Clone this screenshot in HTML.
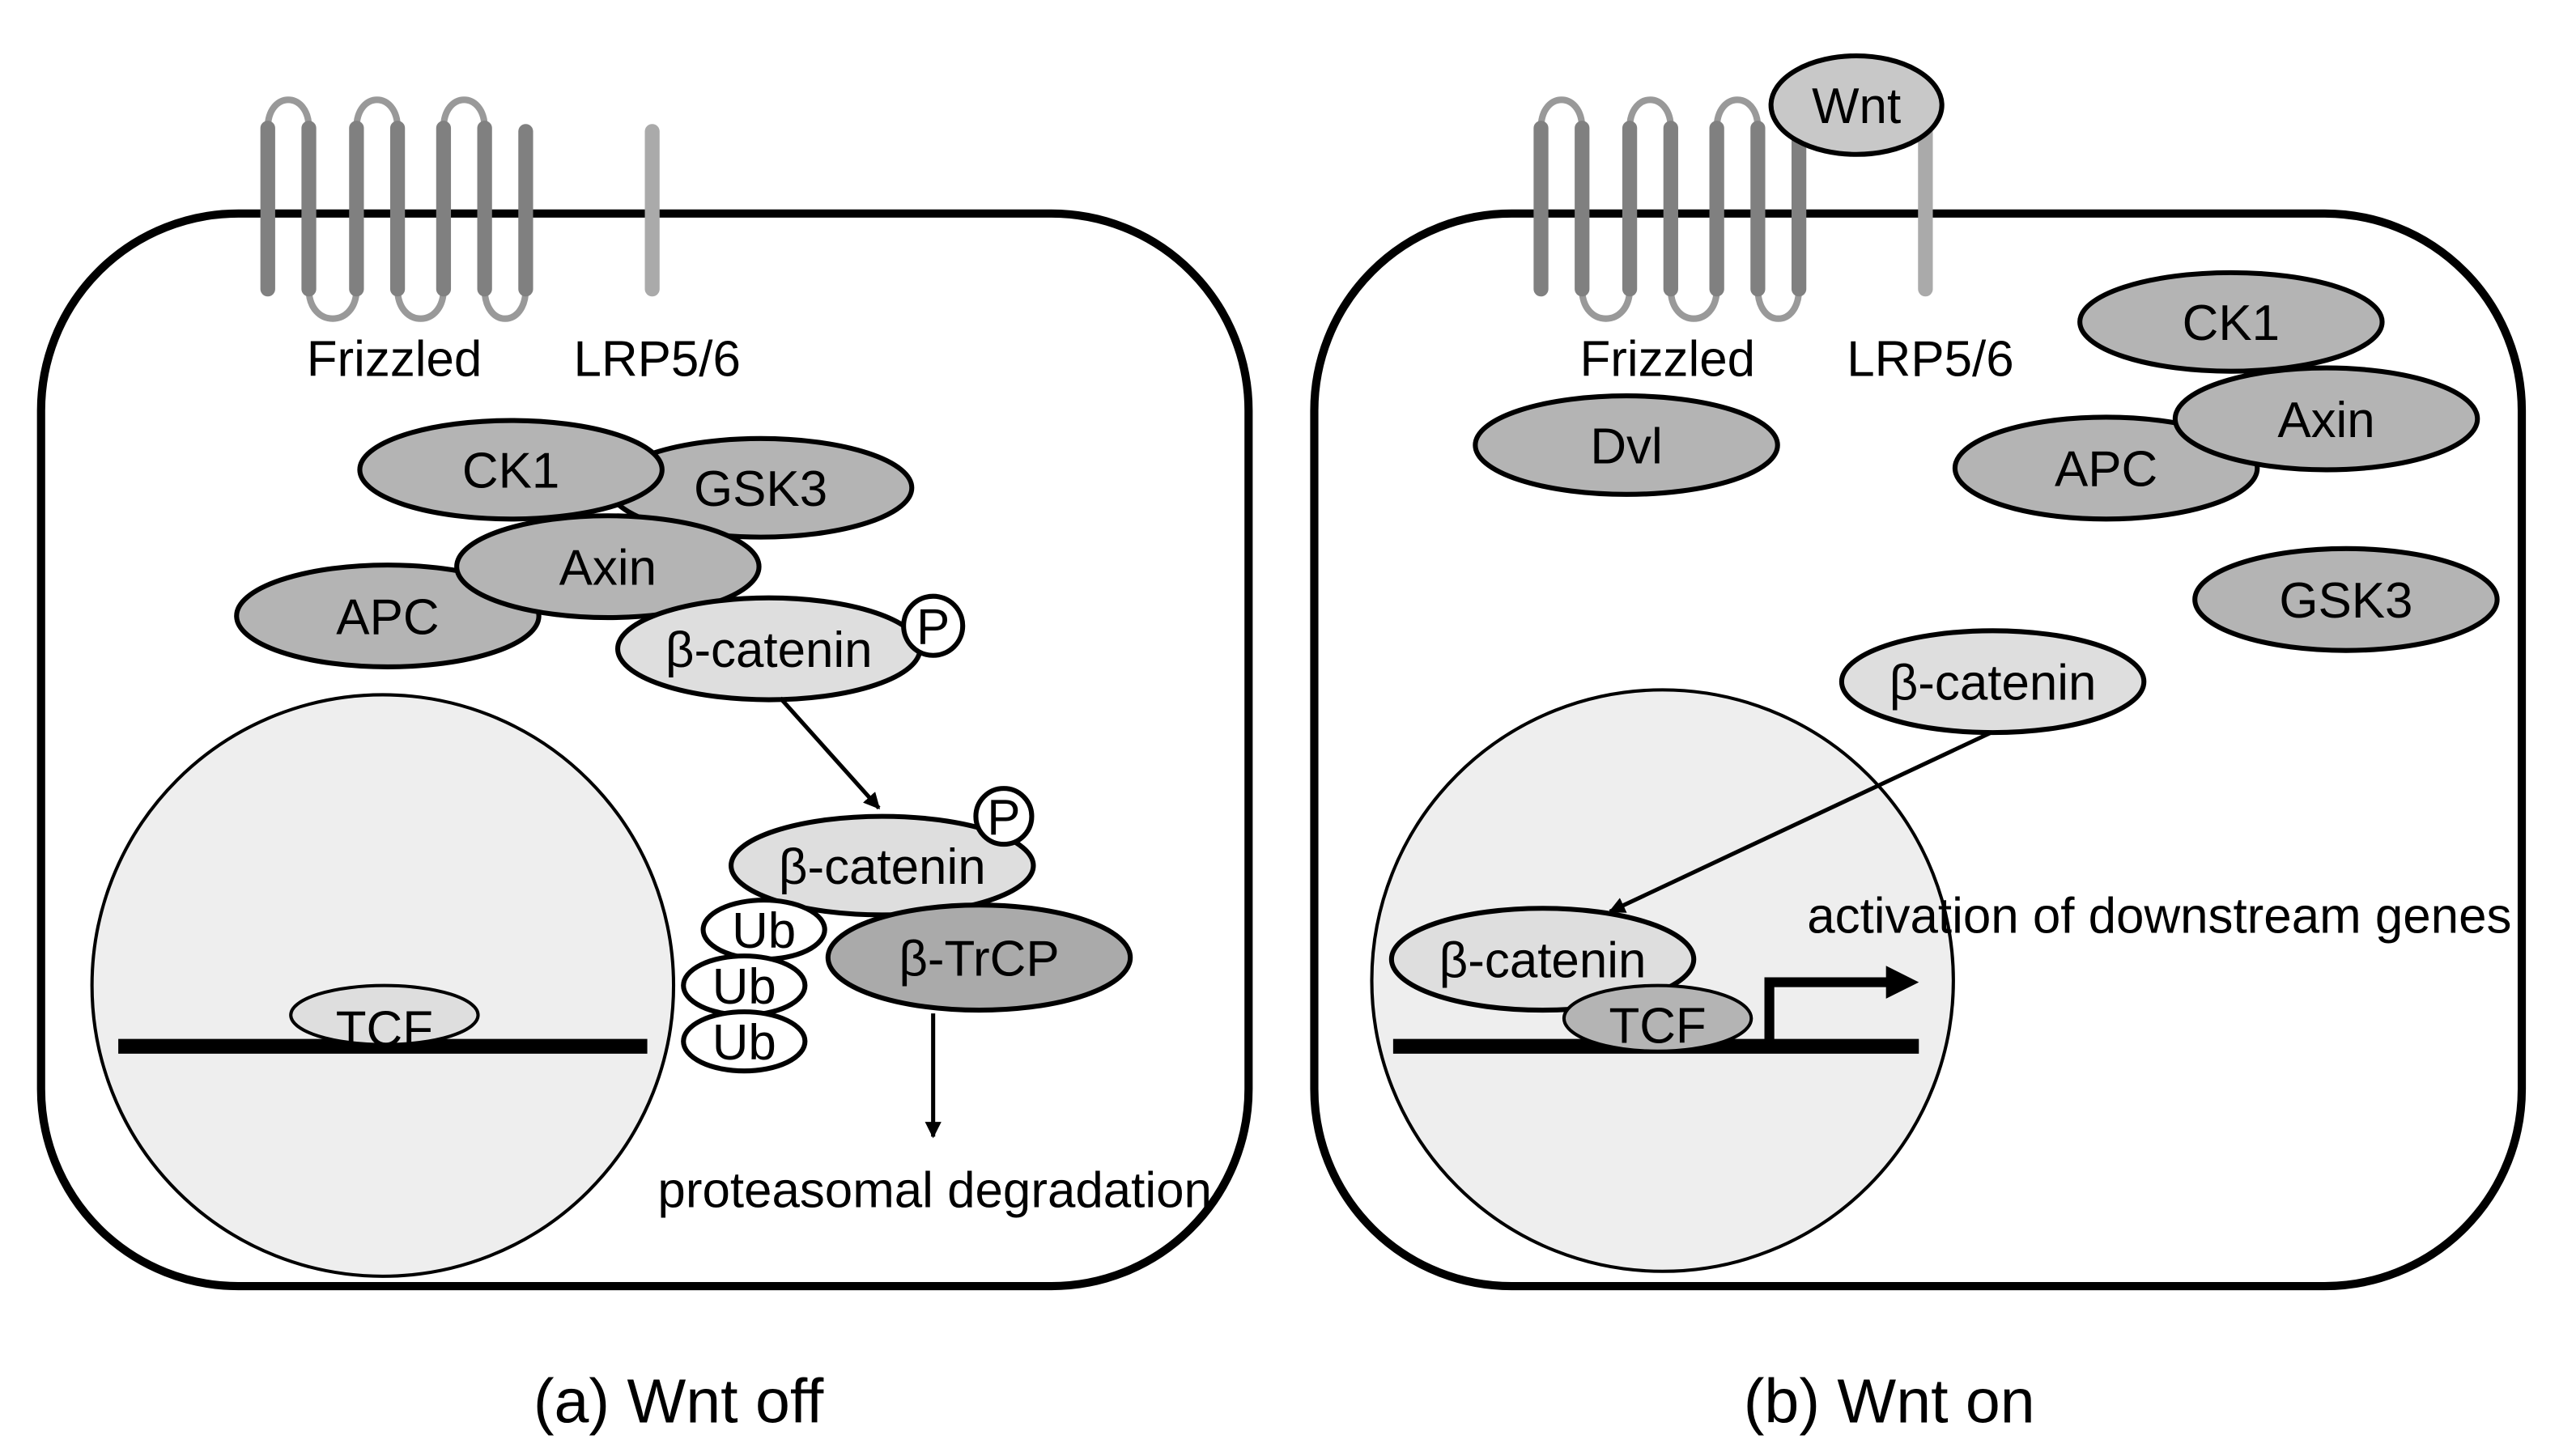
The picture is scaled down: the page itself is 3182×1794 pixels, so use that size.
<!DOCTYPE html>
<html><head><meta charset="utf-8"><style>html,body{margin:0;padding:0;background:#fff}svg{display:block}</style></head>
<body>
<svg width="3182" height="1794" viewBox="0 0 1568 884" preserveAspectRatio="none" xmlns="http://www.w3.org/2000/svg" font-family="Liberation Sans, sans-serif">
<defs>
<marker id="ah" markerWidth="10" markerHeight="10" refX="9" refY="5" orient="auto" markerUnits="userSpaceOnUse"><path d="M0,0 L10,5 L0,10 z" fill="#000"/></marker>
</defs>
<g fill="none" stroke="#000" stroke-width="5">
<rect x="25" y="130" width="735" height="653" rx="120" ry="120"/>
<rect x="800" y="130" width="735" height="653" rx="120" ry="120"/>
</g>
<g id="fz">
<g fill="none" stroke="#999" stroke-width="4">
<path d="M163,78 C163,55 188,55 188,78"/><path d="M217,78 C217,55 242,55 242,78"/><path d="M270,78 C270,55 295,55 295,78"/>
<path d="M188,176 C188,200 217,200 217,176"/><path d="M242,176 C242,200 270,200 270,176"/><path d="M295,176 C295,200 320,200 320,176"/>
</g>
<g stroke="#808080" stroke-width="9" stroke-linecap="round">
<line x1="163" y1="78" x2="163" y2="176"/><line x1="188" y1="78" x2="188" y2="176"/><line x1="217" y1="78" x2="217" y2="176"/><line x1="242" y1="78" x2="242" y2="176"/><line x1="270" y1="78" x2="270" y2="176"/><line x1="295" y1="78" x2="295" y2="176"/><line x1="320" y1="80" x2="320" y2="176"/>
</g>
<line x1="397" y1="80" x2="397" y2="176" stroke="#aaa" stroke-width="9" stroke-linecap="round"/>
</g>
<use href="#fz" x="775"/>
<g font-size="30.5" text-anchor="middle">
<text x="240" y="229">Frizzled</text><text x="400" y="229">LRP5/6</text>
<text x="1015" y="229">Frizzled</text><text x="1175" y="229">LRP5/6</text>
</g>
<g stroke="#000" stroke-width="3" font-size="30.5" text-anchor="middle">
<ellipse cx="1130" cy="64" rx="52" ry="30" fill="#c8c8c8"/><text x="1130" y="75" stroke="none">Wnt</text>
<ellipse cx="463" cy="297" rx="92" ry="30" fill="#b4b4b4"/><text x="463" y="308" stroke="none">GSK3</text>
<ellipse cx="311" cy="286" rx="92" ry="30" fill="#b4b4b4"/><text x="311" y="297" stroke="none">CK1</text>
<ellipse cx="236" cy="375" rx="92" ry="31" fill="#b4b4b4"/><text x="236" y="386" stroke="none">APC</text>
<ellipse cx="370" cy="345" rx="92" ry="31" fill="#b4b4b4"/><text x="370" y="356" stroke="none">Axin</text>
<ellipse cx="468" cy="395" rx="92" ry="31" fill="#dedede"/><text x="468" y="406" stroke="none">β-catenin</text>
<circle cx="568" cy="381" r="18" fill="#fff"/><text x="568" y="392" stroke="none">P</text>
<circle cx="233" cy="600" r="177" fill="#eee" stroke-width="2"/>
<line x1="72" y1="637" x2="394" y2="637" stroke-width="9"/>
<ellipse cx="234" cy="618" rx="57" ry="18" fill="#dedede" stroke-width="2"/><text x="234" y="637" stroke="none">TCF</text>
<line x1="475" y1="425" x2="535" y2="492" stroke-width="2.5" marker-end="url(#ah)"/>
<ellipse cx="537" cy="527" rx="92" ry="30" fill="#dedede"/><text x="537" y="538" stroke="none">β-catenin</text>
<circle cx="611" cy="497" r="17" fill="#fff"/><text x="611" y="508" stroke="none">P</text>
<ellipse cx="596" cy="583" rx="92" ry="32" fill="#aaa"/><text x="596" y="594" stroke="none">β-TrCP</text>
<ellipse cx="465" cy="566" rx="37" ry="18" fill="#fff"/><text x="465" y="577" stroke="none">Ub</text>
<ellipse cx="453" cy="600" rx="37" ry="18" fill="#fff"/><text x="453" y="611" stroke="none">Ub</text>
<ellipse cx="453" cy="634" rx="37" ry="18" fill="#fff"/><text x="453" y="645" stroke="none">Ub</text>
<line x1="568" y1="617" x2="568" y2="692" stroke-width="2.5" marker-end="url(#ah)"/>
<text x="569" y="735" stroke="none">proteasomal degradation</text>
<ellipse cx="990" cy="271" rx="92" ry="30" fill="#b4b4b4"/><text x="990" y="282" stroke="none">Dvl</text>
<ellipse cx="1358" cy="196" rx="92" ry="30" fill="#b4b4b4"/><text x="1358" y="207" stroke="none">CK1</text>
<ellipse cx="1282" cy="285" rx="92" ry="31" fill="#b4b4b4"/><text x="1282" y="296" stroke="none">APC</text>
<ellipse cx="1416" cy="255" rx="92" ry="31" fill="#b4b4b4"/><text x="1416" y="266" stroke="none">Axin</text>
<ellipse cx="1428" cy="365" rx="92" ry="31" fill="#b4b4b4"/><text x="1428" y="376" stroke="none">GSK3</text>
<ellipse cx="1213" cy="415" rx="92" ry="31" fill="#dedede"/><text x="1213" y="426" stroke="none">β-catenin</text>
<circle cx="1012" cy="597" r="177" fill="#eee" stroke-width="2"/>
<line x1="848" y1="637" x2="1168" y2="637" stroke-width="9"/>
<ellipse cx="939" cy="584" rx="92" ry="31" fill="#dedede"/><text x="939" y="595" stroke="none">β-catenin</text>
<ellipse cx="1009" cy="620" rx="57" ry="20" fill="#b4b4b4" stroke-width="2"/><text x="1009" y="635" stroke="none">TCF</text>
<line x1="1212" y1="446" x2="980" y2="555" stroke-width="2.5" marker-end="url(#ah)"/>
<path d="M1077,637 L1077,598 L1150,598" fill="none" stroke-width="6"/>
<path d="M1148,588 L1168,598 L1148,608 z" fill="#000" stroke="none"/>
<text x="1100" y="568" text-anchor="start" stroke="none">activation of downstream genes</text>
</g>
<g font-size="38" text-anchor="middle">
<text x="413" y="866">(a) Wnt off</text>
<text x="1150" y="866">(b) Wnt on</text>
</g>
</svg>
</body></html>
